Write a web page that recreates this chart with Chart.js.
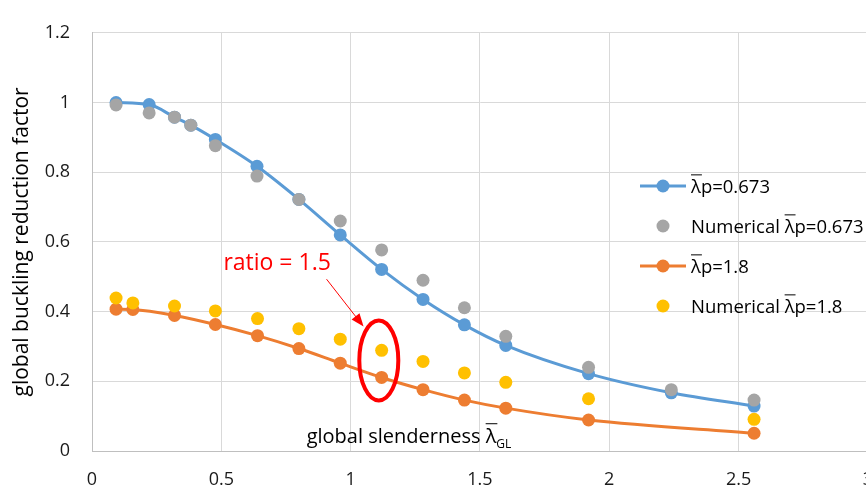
<!DOCTYPE html>
<html>
<head>
<meta charset="utf-8">
<script src="https://cdn.jsdelivr.net/npm/chart.js@4.4.0/dist/chart.umd.min.js"></script>
<style>
html, body { margin: 0; padding: 0; background: #fff; overflow: hidden; }
#wrap { position: relative; width: 891px; height: 490px; }
</style>
</head>
<body>
<div id="wrap"><canvas id="chart"></canvas></div>
<script>
// lambda_p = 0.673 (analytical curve + numerical points)
var xBlue  = [0.093, 0.221, 0.319, 0.382, 0.477, 0.638, 0.80, 0.96, 1.12, 1.28, 1.44, 1.60, 1.92, 2.24, 2.56];
var yBlue  = [1.000, 0.994, 0.958, 0.935, 0.894, 0.817, 0.722, 0.620, 0.521, 0.435, 0.362, 0.303, 0.222, 0.167, 0.129];
var yGray  = [0.993, 0.970, 0.958, 0.935, 0.876, 0.789, 0.722, 0.660, 0.577, 0.490, 0.411, 0.329, 0.240, 0.176, 0.146];

// lambda_p = 1.8
var xOrange = [0.093, 0.158, 0.319, 0.477, 0.640, 0.80, 0.96, 1.12, 1.28, 1.44, 1.60, 1.92, 2.56];
var yOrange = [0.407, 0.406, 0.389, 0.363, 0.331, 0.294, 0.252, 0.211, 0.176, 0.146, 0.123, 0.089, 0.051];
var yYellow = [0.439, 0.425, 0.416, 0.402, 0.380, 0.351, 0.321, 0.289, 0.257, 0.224, 0.197, 0.150, 0.091];

var seriesNames = ['p=0.673', 'Numerical |p=0.673', 'p=1.8', 'Numerical |p=1.8'];
var annotationText = 'ratio = 1.5';

var FONT = "'Open Sans', 'DejaVu Sans', sans-serif";
var BLUE = '#5b9bd5', GRAY = '#a5a5a5', ORANGE = '#ed7d31', YELLOW = '#ffc000';

function pts(xs, ys) {
	return xs.map(function(x, i) { return { x: x, y: ys[i] }; });
}

function fmt(v) { return String(Math.round(v * 10) / 10); }

// text with an overlined lambda in the middle
function drawLambdaText(ctx, x, y, size, before, after, sub) {
	ctx.font = size + 'px ' + FONT;
	ctx.fillText(before, x, y);
	x += ctx.measureText(before).width;
	var lw = ctx.measureText('\u03bb').width;
	ctx.fillText('\u03bb', x, y);
	ctx.beginPath();
	ctx.lineWidth = 1;
	ctx.moveTo(x, y - size * 0.98);
	ctx.lineTo(x + lw + 1, y - size * 0.98);
	ctx.stroke();
	x += lw;
	if (sub) {
		ctx.font = Math.round(size * 0.6) + 'px ' + FONT;
		ctx.fillText(after, x, y + size * 0.25);
	} else {
		ctx.fillText(after, x, y);
	}
}

var extras = {
	id: 'extras',
	afterDraw: function(chart) {
		var ctx = chart.ctx;
		var xs = chart.scales.x, ys = chart.scales.y;
		ctx.save();
		ctx.textBaseline = 'alphabetic';
		ctx.textAlign = 'left';

		// x axis title, inside the plot
		ctx.fillStyle = '#000';
		ctx.strokeStyle = '#000';
		drawLambdaText(ctx, xs.getPixelForValue(0.83), ys.getPixelForValue(0.022), 20, 'global slenderness ', 'GL', true);

		// legend
		var colors = [BLUE, GRAY, ORANGE, YELLOW];
		var lines = [true, false, true, false];
		var lx = 640, ly = 186;
		for (var i = 0; i < 4; i++) {
			var yy = ly + i * 40;
			if (lines[i]) {
				ctx.strokeStyle = colors[i];
				ctx.lineWidth = 3;
				ctx.beginPath();
				ctx.moveTo(lx, yy);
				ctx.lineTo(lx + 46, yy);
				ctx.stroke();
			}
			ctx.fillStyle = colors[i];
			ctx.beginPath();
			ctx.arc(lx + 23, yy, 6.5, 0, Math.PI * 2);
			ctx.fill();
			ctx.fillStyle = '#000';
			ctx.strokeStyle = '#000';
			var parts = seriesNames[i].split('|');
			var before = parts.length > 1 ? parts[0] : '';
			var after = parts.length > 1 ? parts[1] : parts[0];
			drawLambdaText(ctx, lx + 51, yy + 7, 18.5, before, after, false);
		}

		// annotation: text, arrow, ellipse
		ctx.fillStyle = '#ff0000';
		ctx.strokeStyle = '#ff0000';
		ctx.font = '23px ' + FONT;
		ctx.textBaseline = 'middle';
		ctx.fillText(annotationText, xs.getPixelForValue(0.508), ys.getPixelForValue(0.537));

		var ax0 = xs.getPixelForValue(0.907), ay0 = ys.getPixelForValue(0.493);
		var ax1 = xs.getPixelForValue(1.050), ay1 = ys.getPixelForValue(0.357);
		var ang = Math.atan2(ay1 - ay0, ax1 - ax0);
		ctx.lineWidth = 1;
		ctx.beginPath();
		ctx.moveTo(ax0, ay0);
		ctx.lineTo(ax1 - 12 * Math.cos(ang), ay1 - 12 * Math.sin(ang));
		ctx.stroke();
		ctx.beginPath();
		ctx.moveTo(ax1, ay1);
		ctx.lineTo(ax1 - 13 * Math.cos(ang) + 5 * Math.sin(ang), ay1 - 13 * Math.sin(ang) - 5 * Math.cos(ang));
		ctx.lineTo(ax1 - 13 * Math.cos(ang) - 5 * Math.sin(ang), ay1 - 13 * Math.sin(ang) + 5 * Math.cos(ang));
		ctx.closePath();
		ctx.fill();

		ctx.lineWidth = 4;
		ctx.beginPath();
		ctx.ellipse(xs.getPixelForValue(1.109), ys.getPixelForValue(0.26), 19.5, 40, 0, 0, Math.PI * 2);
		ctx.stroke();
		ctx.restore();
	}
};

new Chart(document.getElementById('chart'), {
	type: 'scatter',
	data: {
		datasets: [
			{ data: pts(xBlue, yBlue), showLine: true, borderColor: BLUE, backgroundColor: BLUE, borderWidth: 3,
			  cubicInterpolationMode: 'monotone', pointRadius: 6.5, pointBorderWidth: 0, order: 4 },
			{ data: pts(xBlue, yGray), showLine: false, borderColor: GRAY, backgroundColor: GRAY,
			  pointRadius: 6.5, pointBorderWidth: 0, order: 3 },
			{ data: pts(xOrange, yOrange), showLine: true, borderColor: ORANGE, backgroundColor: ORANGE, borderWidth: 3,
			  cubicInterpolationMode: 'monotone', pointRadius: 6.5, pointBorderWidth: 0, order: 2 },
			{ data: pts(xOrange, yYellow), showLine: false, borderColor: YELLOW, backgroundColor: YELLOW,
			  pointRadius: 6.5, pointBorderWidth: 0, order: 1 }
		]
	},
	options: {
		responsive: true,
		maintainAspectRatio: false,
		animation: false,
		layout: { padding: { top: 18, right: 14, left: 0, bottom: 0 } },
		plugins: { legend: { display: false }, tooltip: { enabled: false } },
		scales: {
			x: {
				type: 'linear', min: 0, max: 3,
				afterFit: function(s) { s.height = 39; },
				ticks: { stepSize: 0.5, padding: 18, color: '#1a1a1a', font: { family: FONT, size: 18 }, callback: fmt },
				grid: { color: '#d9d9d9', drawTicks: false },
				border: { color: '#bfbfbf' }
			},
			y: {
				min: 0, max: 1.2,
				afterFit: function(s) { s.width = 92; },
				ticks: { stepSize: 0.2, padding: 22, color: '#1a1a1a', font: { family: FONT, size: 18 }, callback: fmt },
				grid: { color: '#d9d9d9', drawTicks: false },
				border: { color: '#bfbfbf' },
				title: { display: true, text: 'global buckling reduction factor', color: '#000',
				         font: { family: FONT, size: 21 }, padding: { top: 9, bottom: 0 } }
			}
		}
	},
	plugins: [extras]
});
</script>
</body>
</html>
